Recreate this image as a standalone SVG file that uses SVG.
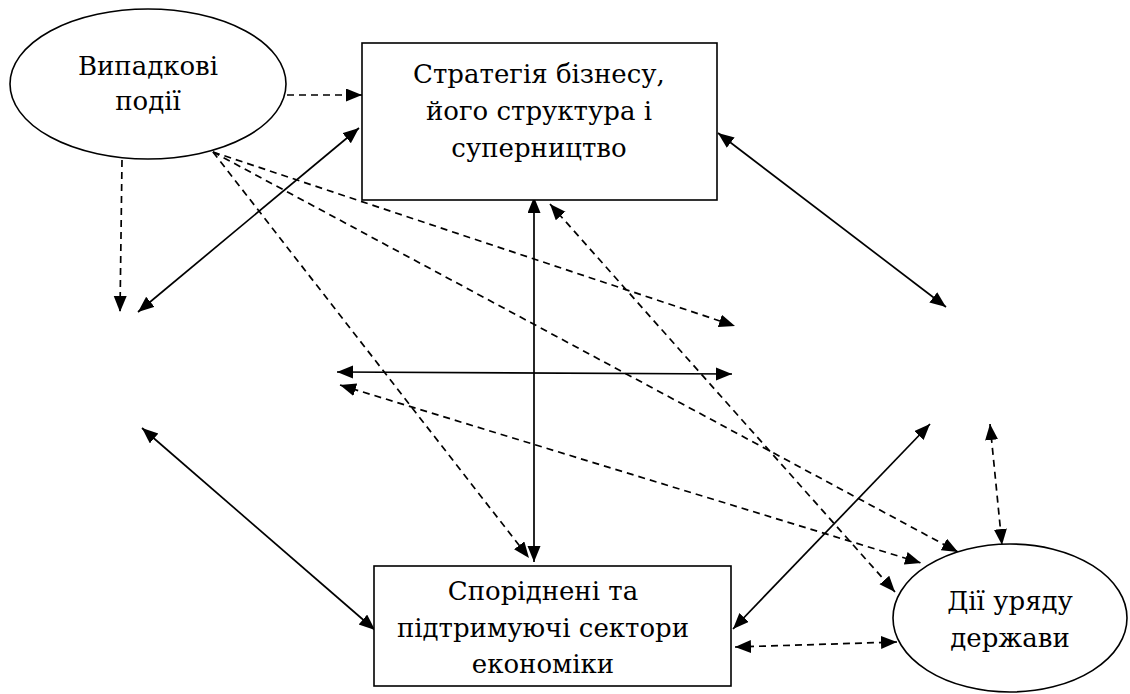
<svg xmlns="http://www.w3.org/2000/svg" width="1130" height="694" viewBox="0 0 1130 694">
<style>
.node{fill:#fff;stroke:#000;stroke-width:1.6}
.s{stroke:#000;stroke-width:1.7;fill:none}
.d{stroke:#000;stroke-width:1.7;fill:none;stroke-dasharray:7 5}
</style>
<defs>
<marker id="ah" markerUnits="userSpaceOnUse" markerWidth="17" markerHeight="14" refX="16" refY="6.5" orient="auto-start-reverse" viewBox="0 0 17 14">
<path d="M0,0 L16,6.5 L0,13 z" fill="#000"/>
</marker>
</defs>
<rect width="1130" height="694" fill="#fff"/>
<g id="connectors">
<line class="d" x1="287" y1="95" x2="362" y2="95" marker-end="url(#ah)"/>
<line class="d" x1="122" y1="160" x2="120" y2="312" marker-end="url(#ah)"/>
<line class="s" x1="359" y1="128" x2="138" y2="312" marker-start="url(#ah)" marker-end="url(#ah)"/>
<line class="d" x1="213" y1="152" x2="735" y2="326" marker-end="url(#ah)"/>
<line class="d" x1="213" y1="152" x2="958" y2="552" marker-end="url(#ah)"/>
<line class="d" x1="213" y1="152" x2="529" y2="558" marker-end="url(#ah)"/>
<line class="s" x1="534" y1="197" x2="534" y2="562" marker-start="url(#ah)" marker-end="url(#ah)"/>
<line class="d" x1="550" y1="204" x2="895" y2="592" marker-start="url(#ah)" marker-end="url(#ah)"/>
<line class="s" x1="337" y1="372" x2="732" y2="374" marker-start="url(#ah)" marker-end="url(#ah)"/>
<line class="d" x1="340" y1="385" x2="921" y2="563" marker-start="url(#ah)" marker-end="url(#ah)"/>
<line class="s" x1="718" y1="133" x2="946" y2="307" marker-start="url(#ah)" marker-end="url(#ah)"/>
<line class="s" x1="733" y1="629" x2="930" y2="424" marker-start="url(#ah)" marker-end="url(#ah)"/>
<line class="d" x1="990" y1="424" x2="1002" y2="545" marker-start="url(#ah)" marker-end="url(#ah)"/>
<line class="d" x1="735" y1="647" x2="897" y2="642" marker-start="url(#ah)" marker-end="url(#ah)"/>
<line class="s" x1="142" y1="428" x2="375" y2="630" marker-start="url(#ah)" marker-end="url(#ah)"/>
</g>
<g font-family="DejaVu Serif, serif" font-size="26" fill="#000" text-anchor="middle">
<g id="n-random">
<ellipse class="node" cx="148" cy="84" rx="138" ry="75"/>
<text x="148" y="75">Випадкові</text>
<text x="148" y="110">події</text>
</g>
<g id="n-strategy">
<rect class="node" x="362" y="43" width="355" height="157"/>
<text x="539" y="83">Стратегія бізнесу,</text>
<text x="539" y="120">його структура і</text>
<text x="539" y="157">суперництво</text>
</g>
<g id="n-related">
<rect class="node" x="374" y="566" width="357" height="120"/>
<text x="543" y="600">Споріднені та</text>
<text x="543" y="637">підтримуючі сектори</text>
<text x="543" y="673">економіки</text>
</g>
<g id="n-gov">
<ellipse class="node" cx="1010" cy="618" rx="117" ry="74"/>
<text x="1010" y="610">Дії уряду</text>
<text x="1010" y="647">держави</text>
</g>
</g>
</svg>
